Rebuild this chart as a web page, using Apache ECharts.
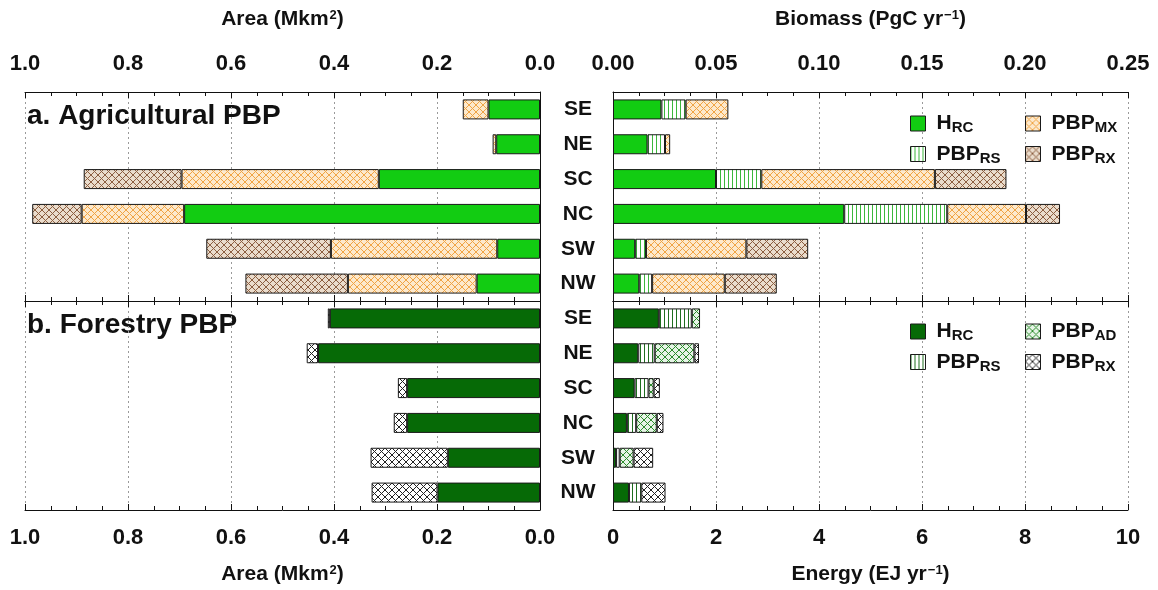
<!DOCTYPE html>
<html><head><meta charset="utf-8">
<script src="https://cdn.jsdelivr.net/npm/echarts@6/dist/echarts.min.js"></script>
<style>html,body{margin:0;padding:0;background:#fff}#c{width:1158px;height:590px}</style>
</head><body><div id="c"></div>
<script>
// ---------- data ----------
const regions = ['SE','NE','SC','NC','SW','NW'];
const areaTicks = [0, 0.2, 0.4, 0.6, 0.8, 1.0];
const energyTicks = [0, 2, 4, 6, 8, 10];
const biomassTicks = [0, 0.05, 0.10, 0.15, 0.20, 0.25];
// a. Agricultural PBP – area (Mkm2)
const agAreaHRC  = [0.100, 0.085, 0.313, 0.691, 0.083, 0.123];
const agAreaMX   = [0.050, 0.007, 0.383, 0.199, 0.323, 0.250];
const agAreaRX   = [0.000, 0.000, 0.190, 0.096, 0.242, 0.199];
// a. Agricultural PBP – energy (EJ/yr)
const agEnHRC = [0.94, 0.67, 2.00, 4.49, 0.43, 0.51];
const agEnRS  = [0.47, 0.34, 0.88, 2.00, 0.21, 0.25];
const agEnMX  = [0.83, 0.10, 3.37, 1.53, 1.95, 1.41];
const agEnRX  = [0.00, 0.00, 1.39, 0.66, 1.20, 1.01];
// b. Forestry PBP – area (Mkm2)
const foAreaHRC = [0.408, 0.431, 0.258, 0.258, 0.179, 0.199];
const foAreaRX  = [0.004, 0.022, 0.018, 0.026, 0.150, 0.128];
// b. Forestry PBP – energy (EJ/yr)
const foEnHRC = [0.89, 0.49, 0.42, 0.27, 0.06, 0.31];
const foEnRS  = [0.64, 0.32, 0.27, 0.18, 0.07, 0.24];
const foEnAD  = [0.16, 0.77, 0.10, 0.40, 0.27, 0.00];
const foEnRX  = [0.00, 0.09, 0.12, 0.13, 0.38, 0.47];

// ---------- patterns ----------
function stripes(bg, fg, period){
  const c=document.createElement('canvas'); c.width=period; c.height=period;
  const g=c.getContext('2d'); g.fillStyle=bg; g.fillRect(0,0,period,period);
  g.fillStyle=fg; g.fillRect(0,0,1,period); return c;
}
function cross(bg, fg, n){
  const c=document.createElement('canvas'); c.width=n; c.height=n;
  const g=c.getContext('2d'); g.fillStyle=bg; g.fillRect(0,0,n,n);
  g.strokeStyle=fg; g.lineWidth=1;
  g.beginPath();
  g.moveTo(-1,-1); g.lineTo(n+1,n+1);
  g.moveTo(-1,n+1); g.lineTo(n+1,-1);
  g.stroke(); return c;
}
const P = (cv)=>({image:cv, repeat:'repeat'});
const colAgH = '#12cc12';
const colFoH = '#066a06';
const patAgRS = P(stripes('#ffffff', '#3cb83c', 4));
const patAgMX = P(cross('#fde9cc', '#f0a444', 7));
const patAgRX = P(cross('#eadccc', '#8c5e40', 7));
const patFoRS = P(stripes('#ffffff', '#1f6f1f', 4));
const patFoAD = P(cross('#e6f4e6', '#2c8c2c', 7));
const patFoRX = P(cross('#ffffff', '#222222', 7));

const nz = a => a.map(v => v === 0 ? null : v);
const font = 'Liberation Sans';

const G = [
  {left: 25,  top: 92,  width: 515, height: 209},
  {left: 613, top: 92,  width: 515, height: 209},
  {left: 25,  top: 301, width: 515, height: 209},
  {left: 613, top: 301, width: 515, height: 209}
];

function xAx(grid, pos, opt){
  return Object.assign({
    type: 'value', gridIndex: grid, position: pos, min: 0, max: 1, interval: 0.2,
    axisLine: {show: true, onZero: false, lineStyle: {color: '#111', width: 1}},
    axisTick: {show: true, inside: true, length: 6, lineStyle: {color: '#111'}},
    minorTick: {show: true, splitNumber: 4, length: 4, lineStyle: {color: '#111'}},
    axisLabel: {show: false},
    splitLine: {show: false}
  }, opt);
}
const split = {show: true, lineStyle: {type: [2, 3], color: '#9a9a9a', width: 1}};
const lab = (fmt) => ({show: true, margin: 17, fontSize: 22, fontFamily: font, fontWeight: 'bold', color: '#111', formatter: fmt});
const nameStyle = {fontSize: 21, fontFamily: font, fontWeight: 'bold', color: '#111',
  rich: {s: {fontSize: 13, fontFamily: font, fontWeight: 'bold', color: '#111', verticalAlign: 'top', padding: [0,0,0,1]}}};

const xAxis = [
  xAx(0, 'top', {inverse: true, axisLabel: lab(v => v.toFixed(1)), splitLine: split,
      name: 'Area (Mkm{s|2})', nameLocation: 'middle', nameGap: 62, nameTextStyle: nameStyle}),
  xAx(0, 'bottom', {inverse: true}),
  xAx(1, 'top', {max: 0.25, interval: 0.05, axisLabel: lab(v => v.toFixed(2)),
      name: 'Biomass (PgC yr{s|−1})', nameLocation: 'middle', nameGap: 62, nameTextStyle: nameStyle}),
  xAx(1, 'bottom', {max: 10, interval: 2, splitLine: split}),
  xAx(2, 'top', {inverse: true}),
  xAx(2, 'bottom', {inverse: true, axisLabel: lab(v => v.toFixed(1)), splitLine: split,
      name: 'Area (Mkm{s|2})', nameLocation: 'middle', nameGap: 54, nameTextStyle: nameStyle}),
  xAx(3, 'top', {max: 10, interval: 2}),
  xAx(3, 'bottom', {max: 10, interval: 2, axisLabel: lab(v => String(v)), splitLine: split,
      name: 'Energy (EJ yr{s|−1})', nameLocation: 'middle', nameGap: 54, nameTextStyle: nameStyle})
];

function yAx(grid, pos, showLab){
  return {
    type: 'category', gridIndex: grid, data: regions, inverse: true, position: pos,
    axisLine: {show: true, lineStyle: {color: '#111', width: 1}},
    axisTick: {show: false},
    axisLabel: showLab ? {show: true, margin: 35, align: 'center', fontSize: 21, fontFamily: font, fontWeight: 'bold', color: '#111'} : {show: false},
    splitLine: {show: false}
  };
}
const yAxis = [yAx(0, 'right', false), yAx(1, 'left', true), yAx(2, 'right', false), yAx(3, 'left', true)];

const border = {borderColor: '#1a1a1a', borderWidth: 1};
function bar(name, xi, yi, stack, data, color){
  return {name, type: 'bar', xAxisIndex: xi, yAxisIndex: yi, stack, data: nz(data), barWidth: 20,
    itemStyle: Object.assign({color}, border), emphasis: {disabled: true}, animation: false};
}
const series = [
  bar('aH_l', 0, 0, 'al', agAreaHRC, colAgH),
  bar('aMX_l', 0, 0, 'al', agAreaMX, patAgMX),
  bar('aRX_l', 0, 0, 'al', agAreaRX, patAgRX),
  bar('aH', 3, 1, 'ar', agEnHRC, colAgH),
  bar('aRS', 3, 1, 'ar', agEnRS, patAgRS),
  bar('aMX', 3, 1, 'ar', agEnMX, patAgMX),
  bar('aRX', 3, 1, 'ar', agEnRX, patAgRX),
  bar('fH_l', 5, 2, 'fl', foAreaHRC, colFoH),
  bar('fRX_l', 5, 2, 'fl', foAreaRX, patFoRX),
  bar('fH', 7, 3, 'fr', foEnHRC, colFoH),
  bar('fRS', 7, 3, 'fr', foEnRS, patFoRS),
  bar('fAD', 7, 3, 'fr', foEnAD, patFoAD),
  bar('fRX', 7, 3, 'fr', foEnRX, patFoRX)
];

const legLabels = {aH: '{b|H}{s|RC}', aRS: '{b|PBP}{s|RS}', aMX: '{b|PBP}{s|MX}', aRX: '{b|PBP}{s|RX}',
                   fH: '{b|H}{s|RC}', fRS: '{b|PBP}{s|RS}', fAD: '{b|PBP}{s|AD}', fRX: '{b|PBP}{s|RX}'};
function leg(data, left, top){
  return {data, left, top, orient: 'vertical', itemWidth: 15, itemHeight: 15, itemGap: 8,
    selectedMode: false, icon: 'rect',
    itemStyle: {borderColor: '#1a1a1a', borderWidth: 1},
    formatter: n => legLabels[n],
    textStyle: {padding: [0,0,0,6], rich: {
      b: {fontSize: 21, fontFamily: font, fontWeight: 'bold', color: '#111'},
      s: {fontSize: 15, fontFamily: font, fontWeight: 'bold', color: '#111', verticalAlign: 'bottom', padding: [9,0,0,0]}}}};
}
const legend = [
  leg(['aH','aRS'], 905, 108),
  leg(['aMX','aRX'], 1020, 108),
  leg(['fH','fRS'], 905, 316),
  leg(['fAD','fRX'], 1020, 316)
];

const graphic = [
  {type: 'text', left: 27, top: 102, style: {text: 'a. Agricultural PBP', font: 'bold 28px "Liberation Sans"', fill: '#111'}},
  {type: 'text', left: 27, top: 311, style: {text: 'b. Forestry PBP', font: 'bold 28px "Liberation Sans"', fill: '#111'}}
];

const chart = echarts.init(document.getElementById('c'), null, {renderer: 'canvas'});
chart.setOption({animation: false, grid: G, xAxis, yAxis, series, legend, graphic});
</script></body></html>
